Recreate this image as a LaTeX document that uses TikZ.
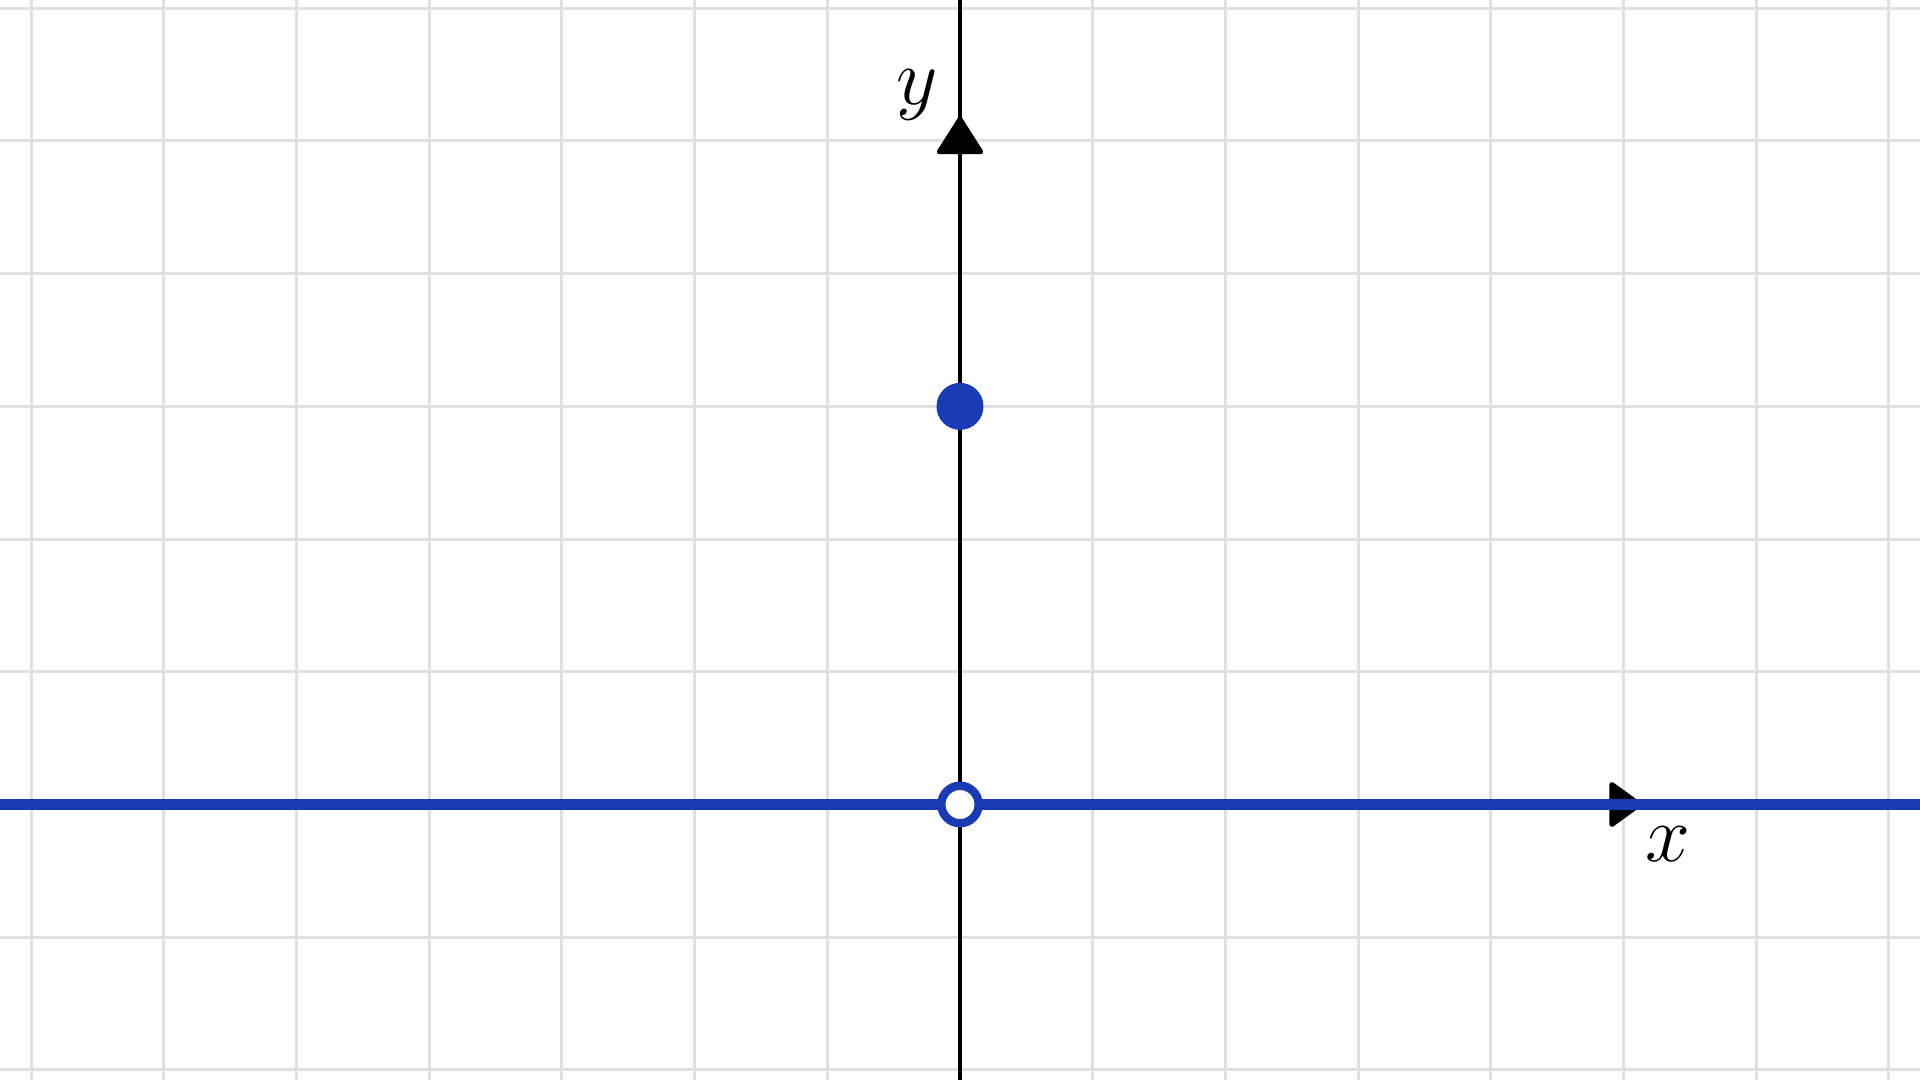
\documentclass[tikz,border=0pt]{standalone}
\begin{document}
\begin{tikzpicture}[x=1cm,y=1cm,
  gridline/.style={draw={rgb,255:red,224;green,224;blue,224}, line width=0.64pt},
  axisline/.style={draw=black, line width=0.9pt},
  arrowtri/.style={fill=black, draw=black, line width=1pt, line join=round},
  curve/.style={draw=plotblue, line width=2.5pt},
  axlabel/.style={font=\fontsize{16}{19}\selectfont, inner sep=0pt}]
\definecolor{plotblue}{RGB}{25,60,180}
\useasboundingbox (-7.2344,-2.0761) rectangle (7.2344,6.0626);
\clip (-7.2344,-2.0761) rectangle (7.2344,6.0626);
\fill[white] (-7.2344,-2.0761) rectangle (7.2344,6.0626);
\draw[gridline] (-7.3,-2.1) grid[step=1] (7.3,6.1);
% axes
\coordinate (ybot) at (0,-2.1);
\coordinate (ytop) at (0,6.1);
\coordinate (xleft) at (-7.3,0);
\coordinate (xright) at (7.3,0);
\draw[axisline] (ybot) -- (ytop);
\draw[axisline] (xleft) -- (xright);
\draw[arrowtri] (0,5.166) -- (-0.157,4.918) -- (0.157,4.918) -- cycle;
\draw[arrowtri] (5.122,0) -- (4.912,0.152) -- (4.912,-0.152) -- cycle;
\node[axlabel] (ylab) at (-0.324,5.347) {$y$};
\node[axlabel] (xlab) at (5.335,-0.30) {$x$};
% graph: y=0 for x != 0, y(0)=3
\draw[curve] (xleft) -- (xright);
\fill[plotblue] (0,3) circle (0.177);
\draw[draw=plotblue, line width=1.8pt, fill=white] (0,0) circle (0.141);
\end{tikzpicture}
\end{document}
